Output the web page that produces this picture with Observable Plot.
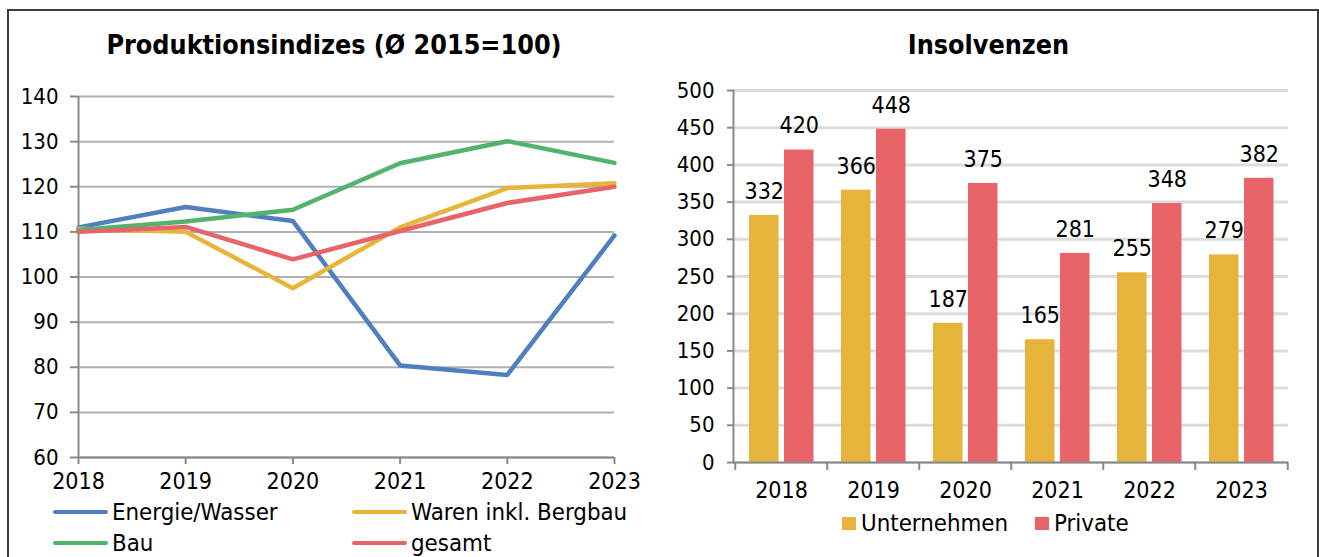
<!DOCTYPE html>
<html>
<head>
<meta charset="utf-8">
<script src="https://cdn.jsdelivr.net/npm/d3@7"></script>
<script src="https://cdn.jsdelivr.net/npm/@observablehq/plot@0.6"></script>
<style>
  html, body { margin: 0; padding: 0; background: #fff; }
  body { width: 1319px; height: 557px; overflow: hidden; font-family: "DejaVu Sans Condensed", "DejaVu Sans", sans-serif; color: #000; }
  #wrap { position: relative; width: 1319px; height: 557px; overflow: hidden; }
  #frame { position: absolute; left: 7px; top: 9px; width: 1312px; height: 600px; border: 2px solid #3c3c3c; box-sizing: border-box; }
  .title { position: absolute; top: 30px; height: 30px; line-height: 30px; font-weight: bold; font-size: 26.7px; text-align: center; white-space: nowrap; }
  .box { position: absolute; }
  .leg { position: absolute; height: 24px; line-height: 24px; font-size: 23.8px; white-space: nowrap; display: flex; align-items: center; }
  .line-sw { display: inline-block; width: 55px; height: 4.5px; border-radius: 2px; margin-right: 4px; }
  .sq-sw { display: inline-block; width: 14px; height: 13px; margin-right: 5px; }
</style>
</head>
<body>
<div id="wrap">
  <div id="frame"></div>
  <div class="title" style="left:8px;width:652px;">Produktionsindizes (Ø 2015=100)</div>
  <div class="title" style="left:660px;width:657px;">Insolvenzen</div>
  <div class="box" id="left" style="left:0;top:60px;"></div>
  <div class="box" id="right" style="left:660px;top:60px;"></div>
  <div id="legLeft"></div>
  <div id="legRight"></div>
</div>
<script>
// ---- data ----
const years = [2018, 2019, 2020, 2021, 2022, 2023];
const seriesNames = ["Energie/Wasser", "Waren inkl. Bergbau", "Bau", "gesamt"];
const energieWasser = [111.0, 115.5, 112.4, 80.4, 78.3, 109.2];
const warenBergbau = [110.7, 110.0, 97.5, 111.0, 119.7, 120.8];
const bau = [110.4, 112.3, 114.9, 125.2, 130.1, 125.3];
const gesamt = [110.0, 111.1, 103.9, 110.2, 116.4, 120.0];
const indexTicks = [60, 70, 80, 90, 100, 110, 120, 130, 140];

const insolvNames = ["Unternehmen", "Private"];
const unternehmen = [332, 366, 187, 165, 255, 279];
const privat = [420, 448, 375, 281, 348, 382];
const insolvTicks = [0, 50, 100, 150, 200, 250, 300, 350, 400, 450, 500];

// ---- styles ----
const FONT = '"DejaVu Sans Condensed", "DejaVu Sans", sans-serif';
const lineColors = ["#4f7fbf", "#e8b43a", "#52b36c", "#e8636a"];
const barColors = ["#e6b43a", "#e86468"];
const axisGray = "#8a8a8a";

// ---- left chart ----
const seriesValues = [energieWasser, warenBergbau, bau, gesamt];
const lineRows = [];
seriesNames.forEach((s, k) => years.forEach((year, i) => lineRows.push({series: s, year, value: seriesValues[k][i]})));

const leftChart = Plot.plot({
  width: 660, height: 440,
  marginLeft: 78, marginRight: 46, marginTop: 36, marginBottom: 43,
  style: {fontFamily: FONT, fontSize: "22px", color: "#000", background: "transparent", overflow: "visible"},
  x: {type: "linear", domain: [2018, 2023], label: null},
  y: {domain: [60, 140], label: null},
  color: {domain: seriesNames, range: lineColors},
  marks: [
    Plot.gridY(indexTicks, {stroke: "#b0b0b0", strokeWidth: 2, strokeOpacity: 1}),
    Plot.ruleY([60], {stroke: axisGray, strokeWidth: 2}),
    Plot.ruleX([2018], {stroke: axisGray, strokeWidth: 2}),
    Plot.axisY(indexTicks, {label: null, tickSize: 8, tickPadding: 12, stroke: axisGray, strokeWidth: 2, fill: "#000", fontSize: 22, tickFormat: d => String(d)}),
    Plot.axisX(years, {label: null, tickSize: 7, tickPadding: 8, stroke: axisGray, strokeWidth: 2, fill: "#000", fontSize: 23, tickFormat: d => String(d)}),
    Plot.line(lineRows, {x: "year", y: "value", z: "series", stroke: "series", strokeWidth: 4.5, strokeLinejoin: "round", strokeLinecap: "round"})
  ]
});
document.getElementById("left").appendChild(leftChart);

// ---- right chart ----
const insolvRows = years.map((year, i) => ({year, unternehmen: unternehmen[i], privat: privat[i]}));
const rW = 659, rML = 73, rMR = 31;
const band = (rW - rML - rMR) / years.length;
const half = band / 2;
const barW = 30, padL = 14, gap = 5;
const uInsetL = padL, uInsetR = band - padL - barW;
const pInsetL = padL + barW + gap, pInsetR = band - pInsetL - barW;
const uDx = padL + barW / 2 - half;
const pDx = pInsetL + barW / 2 - half;

const rightChart = Plot.plot({
  width: rW, height: 440,
  marginLeft: rML, marginRight: rMR, marginTop: 30, marginBottom: 38,
  style: {fontFamily: FONT, fontSize: "22px", color: "#000", background: "transparent", overflow: "visible"},
  x: {type: "band", domain: years, padding: 0, label: null},
  y: {domain: [0, 500], label: null},
  marks: [
    Plot.gridY(insolvTicks, {stroke: "#dcdcdc", strokeWidth: 3, strokeOpacity: 1}),
    Plot.barY(insolvRows, {x: "year", y: "unternehmen", fill: barColors[0], insetLeft: uInsetL, insetRight: uInsetR}),
    Plot.barY(insolvRows, {x: "year", y: "privat", fill: barColors[1], insetLeft: pInsetL, insetRight: pInsetR}),
    Plot.text(insolvRows, {x: "year", y: "unternehmen", text: d => String(d.unternehmen), dx: uDx, dy: -24, fontSize: 23, fill: "#000"}),
    Plot.text(insolvRows, {x: "year", y: "privat", text: d => String(d.privat), dx: pDx, dy: -24, fontSize: 23, fill: "#000"}),
    Plot.ruleY([0], {stroke: axisGray, strokeWidth: 2}),
    Plot.frame({anchor: "left", stroke: axisGray, strokeWidth: 2}),
    Plot.axisY(insolvTicks, {label: null, tickSize: 6, tickPadding: 13, stroke: axisGray, strokeWidth: 2, fill: "#000", fontSize: 22, tickFormat: d => String(d)}),
    Plot.axisX(years, {label: null, tickSize: 8, dx: -half, stroke: axisGray, strokeWidth: 2, tickFormat: () => ""}),
    Plot.axisX([years[years.length - 1]], {label: null, tickSize: 8, dx: half, stroke: axisGray, strokeWidth: 2, tickFormat: () => ""}),
    Plot.axisX(years, {label: null, tickSize: 0, tickPadding: 19, fill: "#000", fontSize: 23, tickFormat: d => String(d)})
  ]
});
document.getElementById("right").appendChild(rightChart);

// ---- legends ----
const legLeft = document.getElementById("legLeft");
const legPos = [[53, 500], [352, 500], [53, 531], [352, 531]];
seriesNames.forEach((s, k) => {
  const d = document.createElement("div");
  d.className = "leg";
  d.style.left = legPos[k][0] + "px";
  d.style.top = legPos[k][1] + "px";
  d.innerHTML = `<span class="line-sw" style="background:${lineColors[k]}"></span><span>${s}</span>`;
  legLeft.appendChild(d);
});
const legRight = document.getElementById("legRight");
const legRPos = [[842, 511], [1035, 511]];
insolvNames.forEach((s, k) => {
  const d = document.createElement("div");
  d.className = "leg";
  d.style.left = legRPos[k][0] + "px";
  d.style.top = legRPos[k][1] + "px";
  d.innerHTML = `<span class="sq-sw" style="background:${barColors[k]}"></span><span>${s}</span>`;
  legRight.appendChild(d);
});
</script>
</body>
</html>
